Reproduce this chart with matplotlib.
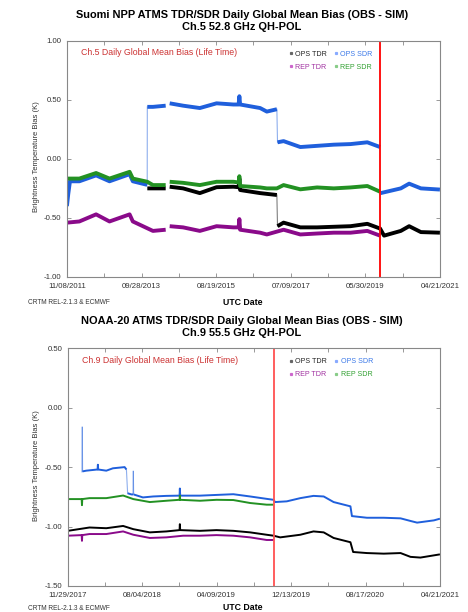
import numpy as np
import pandas as pd
import matplotlib
matplotlib.use("Agg")
import matplotlib.pyplot as plt
from matplotlib.lines import Line2D

plt.rcParams['font.family'] = ['Liberation Sans', 'DejaVu Sans']

# ---------------- Suomi NPP, Ch.5 ----------------
npp_start, npp_end = "2011-11-08", "2021-04-21"
npp_red = "2019-10-18"
npp_ticklabels = ["11/08/2011", "09/28/2013", "08/19/2015", "07/09/2017", "05/30/2019", "04/21/2021"]

npp_ops_sdr_dates = ["2011-11-08", "2011-11-20", "2011-12-06", "2012-03-02", "2012-08-04", "2012-12-06",
                     "2013-06-10", "2013-07-10", "2013-11-20", "2013-11-21", "2014-01-12", "2014-05-10",
                     "2014-05-11", "2014-06-16", "2014-10-18", "2015-03-22", "2015-08-24", "2016-01-26",
                     "2016-03-15", "2016-03-22", "2016-03-29", "2016-09-30", "2016-12-01", "2017-03-04",
                     "2017-03-10", "2017-05-05", "2017-10-07", "2018-03-11", "2018-08-13", "2019-01-15",
                     "2019-06-19", "2019-10-15", "2019-10-16", "2019-10-20", "2020-04-24", "2020-07-10",
                     "2020-10-27", "2021-04-21"]
npp_ops_sdr = [-0.40, -0.30, -0.19, -0.19, -0.14, -0.19,
               -0.13, -0.19, -0.22, 0.44, 0.44, 0.45,
               np.nan, 0.47, 0.45, 0.43, 0.47, 0.46,
               0.46, 0.53, 0.46, 0.43, 0.40, 0.42,
               0.14, 0.15, 0.10, 0.11, 0.12, 0.125,
               0.14, 0.10, np.nan, -0.29, -0.25, -0.21,
               -0.25, -0.26]

npp_rep_sdr_dates = ["2011-11-08", "2012-03-02", "2012-08-04", "2012-12-06", "2013-06-10", "2013-07-10",
                     "2013-11-21", "2014-01-12", "2014-05-10", "2014-05-11", "2014-06-16", "2014-10-18",
                     "2015-03-22", "2015-08-24", "2016-01-26", "2016-03-15", "2016-03-22", "2016-03-29",
                     "2016-09-30", "2016-12-01", "2017-03-04", "2017-05-05", "2017-10-07", "2018-03-11",
                     "2018-08-13", "2019-01-15", "2019-06-19", "2019-10-15"]
npp_rep_sdr = [-0.167, -0.167, -0.12, -0.167, -0.11, -0.167,
               -0.194, -0.222, -0.222, np.nan, -0.194, -0.203,
               -0.222, -0.194, -0.194, -0.20, -0.147, -0.23,
               -0.242, -0.25, -0.25, -0.222, -0.258, -0.242,
               -0.25, -0.242, -0.23, -0.278]

npp_ops_tdr_dates = ["2013-11-21", "2014-01-12", "2014-05-10", "2014-05-11", "2014-06-16", "2014-10-18",
                     "2015-03-22", "2015-08-24", "2016-01-26", "2016-03-15", "2016-03-22", "2016-03-29",
                     "2016-09-30", "2017-03-04", "2017-03-10", "2017-05-05", "2017-10-07", "2018-03-11",
                     "2018-08-13", "2019-01-15", "2019-06-19", "2019-10-15", "2019-11-21", "2020-04-24",
                     "2020-07-10", "2020-10-27", "2021-04-21"]
npp_ops_tdr = [-0.25, -0.25, -0.25, np.nan, -0.236, -0.25,
               -0.29, -0.24, -0.236, -0.24, -0.167, -0.264,
               -0.29, -0.306, -0.57, -0.54, -0.58, -0.58,
               -0.575, -0.57, -0.55, -0.59, -0.65, -0.61,
               -0.57, -0.62, -0.625]

npp_rep_tdr_dates = ["2011-11-08", "2012-03-02", "2012-08-04", "2012-12-06", "2013-06-10", "2013-07-10",
                     "2014-01-12", "2014-05-10", "2014-05-11", "2014-06-16", "2014-10-18", "2015-03-22",
                     "2015-08-24", "2016-01-26", "2016-03-15", "2016-03-22", "2016-03-29", "2016-09-30",
                     "2016-12-01", "2017-05-05", "2017-10-07", "2018-03-11", "2018-08-13", "2019-01-15",
                     "2019-06-19", "2019-10-15"]
npp_rep_tdr = [-0.54, -0.53, -0.47, -0.53, -0.47, -0.53,
               -0.61, -0.60, np.nan, -0.57, -0.58, -0.61,
               -0.57, -0.58, -0.58, -0.51, -0.60, -0.625,
               -0.64, -0.60, -0.64, -0.632, -0.625, -0.625,
               -0.61, -0.65]

# ---------------- NOAA-20, Ch.9 ----------------
n20_start, n20_end = "2017-11-29", "2021-04-21"
n20_red = "2019-10-18"
n20_ticklabels = ["11/29/2017", "08/04/2018", "04/09/2019", "12/13/2019", "08/17/2020", "04/21/2021"]

n20_ops_sdr_dates = ["2018-01-15", "2018-01-16", "2018-01-17", "2018-01-29", "2018-03-08", "2018-03-09",
                     "2018-03-10", "2018-04-06", "2018-04-28", "2018-06-06", "2018-06-12", "2018-06-16",
                     "2018-06-29", "2018-07-04", "2018-07-05", "2018-07-06", "2018-08-06", "2018-09-09",
                     "2018-10-23", "2018-12-06", "2018-12-07", "2018-12-08", "2019-02-12", "2019-04-08",
                     "2019-06-03", "2019-07-29", "2019-09-22", "2019-10-15", "2019-10-20", "2019-11-28",
                     "2020-01-12", "2020-02-25", "2020-03-30", "2020-05-02", "2020-06-27", "2020-07-02",
                     "2020-08-21", "2020-10-16", "2020-12-11", "2021-01-13", "2021-02-04", "2021-04-01",
                     "2021-04-21"]
n20_ops_sdr = [-0.54, -0.165, -0.536, -0.53, -0.52, -0.48,
               -0.52, -0.53, -0.51, -0.50, -0.52, -0.72,
               -0.73, -0.73, -0.536, -0.73, -0.755, -0.747,
               -0.742, -0.74, -0.68, -0.74, -0.74, -0.734,
               -0.728, -0.747, -0.767, -0.775, -0.794, -0.788,
               -0.761, -0.742, -0.747, -0.794, -0.83, -0.912,
               -0.926, -0.926, -0.931, -0.953, -0.967, -0.948,
               -0.934]

n20_rep_sdr_dates = ["2017-11-29", "2018-01-14", "2018-01-15", "2018-01-16", "2018-02-09", "2018-04-06",
                     "2018-06-01", "2018-07-05", "2018-08-29", "2018-10-23", "2018-12-06", "2018-12-07",
                     "2018-12-08", "2019-02-12", "2019-04-08", "2019-06-03", "2019-07-29", "2019-09-22",
                     "2019-10-15"]
n20_rep_sdr = [-0.769, -0.769, -0.82, -0.769, -0.761, -0.761,
               -0.739, -0.769, -0.794, -0.783, -0.775, -0.74,
               -0.775, -0.783, -0.775, -0.777, -0.802, -0.816,
               -0.816]

n20_ops_tdr_dates = ["2017-11-29", "2018-02-09", "2018-04-06", "2018-06-01", "2018-07-05", "2018-08-29",
                     "2018-10-23", "2018-12-06", "2018-12-07", "2018-12-08", "2019-02-12", "2019-04-08",
                     "2019-06-03", "2019-07-29", "2019-09-22", "2019-10-15", "2019-11-06", "2020-01-12",
                     "2020-02-25", "2020-03-30", "2020-05-02", "2020-06-27", "2020-07-06", "2020-08-21",
                     "2020-10-16", "2020-12-11", "2021-01-13", "2021-02-15", "2021-04-21"]
n20_ops_tdr = [-1.036, -1.008, -1.014, -0.995, -1.022, -1.049,
               -1.041, -1.030, -0.98, -1.030, -1.036, -1.030,
               -1.036, -1.049, -1.069, -1.077, -1.091, -1.069,
               -1.041, -1.049, -1.096, -1.132, -1.214, -1.223,
               -1.228, -1.223, -1.255, -1.261, -1.234]

n20_rep_tdr_dates = ["2017-11-29", "2018-01-14", "2018-01-15", "2018-01-16", "2018-02-09", "2018-04-06",
                     "2018-06-01", "2018-07-05", "2018-08-29", "2018-10-23", "2018-12-18", "2019-02-12",
                     "2019-04-08", "2019-06-03", "2019-07-29", "2019-09-22", "2019-10-15"]
n20_rep_tdr = [-1.077, -1.072, -1.12, -1.072, -1.063, -1.063,
               -1.041, -1.069, -1.096, -1.091, -1.077, -1.077,
               -1.072, -1.077, -1.091, -1.113, -1.113]

c_ops_tdr = "black"
c_ops_sdr = "#1f5fdc"
c_rep_tdr = "#8a0a8a"
c_rep_sdr = "#239123"


def plot_series(ax, dates, vals, col, lw, thr):
    # big jumps / spikes are drawn as thin faint connectors, like in the daily plots
    d = pd.to_datetime(dates)
    v = np.array(vals, dtype=float)
    xs, ys = [d[0]], [v[0]]
    for i in range(1, len(v)):
        if abs(v[i] - v[i - 1]) > thr:
            ax.plot([d[i - 1], d[i]], [v[i - 1], v[i]], color=col, lw=0.8, alpha=0.5)
            xs.append(d[i - 1])
            ys.append(np.nan)
        xs.append(d[i])
        ys.append(v[i])
    ax.plot(xs, ys, color=col, lw=lw, solid_joinstyle='round', solid_capstyle='butt')


def draw_panel(ax, series, start, end, red, ticklabels, ylim, yticks, lw, thr, redcolor, chtext):
    for dates, vals, col in series:
        plot_series(ax, dates, vals, col, lw, thr)
    t0, t1 = pd.Timestamp(start), pd.Timestamp(end)
    ax.set_xlim(t0, t1)
    ax.set_ylim(*ylim)
    ax.axvline(pd.Timestamp(red), color=redcolor, lw=1.3)
    ticks = pd.date_range(t0, t1, periods=11)
    ax.set_xticks(ticks)
    labs = []
    for i in range(11):
        labs.append(ticklabels[i // 2] if i % 2 == 0 else "")
    ax.set_xticklabels(labs)
    ax.set_yticks(yticks)
    ax.set_yticklabels(["%.2f" % v for v in yticks])
    ax.tick_params(direction='in', length=3, width=0.6, color='#888888', labelsize=5.6,
                   labelcolor='#333333', top=True, right=True, pad=4)
    for s in ax.spines.values():
        s.set_color('#888888')
        s.set_linewidth(0.8)
    ax.text(0.037, 0.948, chtext, transform=ax.transAxes, color='#cc3333', fontsize=6.3,
            va='center', ha='left')
    handles = [Line2D([], [], marker='s', ms=1.3, ls='', color=c) for c in
               ['#666666', '#cc66cc', '#88aaff', '#88cc88']]
    ax.legend(handles, ["OPS TDR", "REP TDR", "OPS SDR", "REP SDR"], ncol=2,
              loc='upper left', bbox_to_anchor=(0.583, 0.978), frameon=False,
              fontsize=5.1, handlelength=0.4, handletextpad=0.4, columnspacing=1.1,
              labelspacing=0.8, borderpad=0.2,
              labelcolor=['#222222', '#a030a0', '#3a78e8', '#30a030'])


fig = plt.figure(figsize=(4.68, 6.12), dpi=100)

ax1 = fig.add_axes([0.143, 0.5474, 0.797, 0.3861])
draw_panel(ax1,
           [(npp_ops_tdr_dates, npp_ops_tdr, c_ops_tdr),
            (npp_ops_sdr_dates, npp_ops_sdr, c_ops_sdr),
            (npp_rep_tdr_dates, npp_rep_tdr, c_rep_tdr),
            (npp_rep_sdr_dates, npp_rep_sdr, c_rep_sdr)],
           npp_start, npp_end, npp_red, npp_ticklabels, (-1.0, 1.0), [-1.0, -0.5, 0.0, 0.5, 1.0],
           2.8, 0.15, 'red', "Ch.5 Daily Global Mean Bias (Life Time)")

ax2 = fig.add_axes([0.145, 0.0425, 0.795, 0.3885])
draw_panel(ax2,
           [(n20_ops_tdr_dates, n20_ops_tdr, c_ops_tdr),
            (n20_ops_sdr_dates, n20_ops_sdr, c_ops_sdr),
            (n20_rep_tdr_dates, n20_rep_tdr, c_rep_tdr),
            (n20_rep_sdr_dates, n20_rep_sdr, c_rep_sdr)],
           n20_start, n20_end, n20_red, n20_ticklabels, (-1.5, 0.5), [-1.5, -1.0, -0.5, 0.0, 0.5],
           1.4, 0.1, '#ff5050', "Ch.9 Daily Global Mean Bias (Life Time)")

W, H = 468.0, 612.0
fig.text(242 / W, 1 - 14.5 / H, "Suomi NPP ATMS TDR/SDR Daily Global Mean Bias (OBS - SIM)",
         ha='center', va='center', fontsize=7.9, fontweight='bold')
fig.text(242 / W, 1 - 26.5 / H, "Ch.5 52.8 GHz QH-POL", ha='center', va='center', fontsize=7.9,
         fontweight='bold')
fig.text(242 / W, 1 - 321 / H, "NOAA-20 ATMS TDR/SDR Daily Global Mean Bias (OBS - SIM)",
         ha='center', va='center', fontsize=7.9, fontweight='bold')
fig.text(242 / W, 1 - 333 / H, "Ch.9 55.5 GHz QH-POL", ha='center', va='center', fontsize=7.9,
         fontweight='bold')

for yc in [157, 466]:
    fig.text(36 / W, 1 - yc / H, "Brightness Temperature Bias (K)", rotation=90, ha='center',
             va='center', fontsize=5.5, color='#333333')

fig.text(243 / W, 1 - 302.5 / H, "UTC Date", ha='center', va='center', fontsize=6.3, fontweight='bold')
fig.text(243 / W, 1 - 608 / H, "UTC Date", ha='center', va='center', fontsize=6.3, fontweight='bold')
fig.text(28 / W, 1 - 303 / H, "CRTM REL-2.1.3 & ECMWF", ha='left', va='center', fontsize=4.7,
         color='#333333')
fig.text(28 / W, 1 - 609 / H, "CRTM REL-2.1.3 & ECMWF", ha='left', va='center', fontsize=4.7,
         color='#333333')

fig.savefig("out.png", dpi=100)
